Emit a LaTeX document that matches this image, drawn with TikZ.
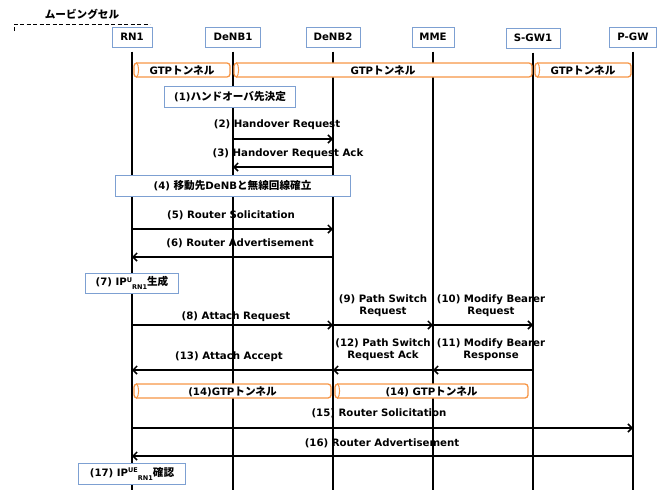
\documentclass[tikz,border=0pt]{standalone}
\usepackage{fontspec}
\setmainfont{DejaVu Sans}
\newfontfamily\jp{Noto Sans CJK JP}[Scale=1.04]
\usetikzlibrary{arrows.meta}
\definecolor{boxblue}{RGB}{125,160,210}
\definecolor{tunor}{RGB}{247,150,70}
\begin{document}
\begin{tikzpicture}[x=1pt,y=-1pt,
  every node/.style={font=\fontsize{10.2}{12}\selectfont\bfseries},
  hdr/.style={draw=boxblue,line width=1pt,fill=white,minimum height=20pt,inner sep=2pt},
  life/.style={line width=1.6pt},
  msg/.style={line width=1.5pt,-{Straight Barb[length=4pt,width=8pt]}},
  note/.style={draw=boxblue,line width=1pt,fill=white,minimum height=21pt,inner sep=1pt},
  tunnel/.style={draw=tunor,line width=1.3pt,rounded corners=3pt,fill=white,minimum height=14pt,inner sep=0pt},
  lbl/.style={inner sep=1pt},
  lbl2/.style={inner sep=1pt,align=center}]
\useasboundingbox (0,0) rectangle (662,490);
% moving cell
\node[lbl] (mc) at (82,14) {\jp ムービングセル};
\coordinate (mcl) at (14,24);
\coordinate (mcr) at (150,24);
\coordinate (mct) at (14,31);
\draw[dash pattern=on 4pt off 2.5pt,line width=0.8pt] (mct) -- (mcl) -- (mcr);
% headers
\node[hdr,minimum width=40pt] (rn1) at (132,37) {RN1};
\node[hdr,minimum width=55pt] (denb1) at (233,37) {DeNB1};
\node[hdr,minimum width=54pt] (denb2) at (333,37) {DeNB2};
\node[hdr,minimum width=42pt] (mme) at (433,37) {MME};
\node[hdr,minimum width=54pt] (sgw1) at (533,38) {S-GW1};
\node[hdr,minimum width=47pt] (pgw) at (633,37) {P-GW};
% lifelines
\foreach \n in {rn1,denb1,denb2,mme,sgw1,pgw}{
  \draw[life] ([yshift=-4pt]\n.south) -- (\n.south |- 0,490);
}
% top tunnels
\node[tunnel,minimum width=96pt] (t1) at (182,70) {GTP{\jp トンネル}};
\node[tunnel,minimum width=298pt] (t2) at (383,70) {GTP{\jp トンネル}};
\node[tunnel,minimum width=96pt] (t3) at (583,70) {GTP{\jp トンネル}};
\foreach \t in {t1,t2,t3}{
  \draw[draw=tunor,line width=1pt] ([xshift=3pt]\t.north west) .. controls ([xshift=6pt,yshift=-3pt]\t.north west) and ([xshift=6pt,yshift=3pt]\t.south west) .. ([xshift=3pt]\t.south west);
}
% (1)
\node[note,minimum width=131pt] (n1) at (230,97) {(1){\jp ハンドオーバ先決定}};
% (2),(3)
\node[lbl] (l2) at (277,125) {(2) Handover Request};
\draw[msg] (denb1 |- 0,139) -- (denb2 |- 0,139);
\node[lbl] (l3) at (288,154) {(3) Handover Request Ack};
\draw[msg] (denb2 |- 0,167) -- (denb1 |- 0,167);
% (4)
\node[note,minimum width=235pt] (n4) at (232.5,186) {(4) {\jp 移動先}DeNB{\jp と無線回線確立}};
% (5),(6)
\node[lbl] (l5) at (231,215) {(5) Router Solicitation};
\draw[msg] (rn1 |- 0,229) -- (denb2 |- 0,229);
\node[lbl] (l6) at (240,243) {(6) Router Advertisement};
\draw[msg] (denb2 |- 0,257) -- (rn1 |- 0,257);
% (7)
\node[note,minimum width=93pt,minimum height=20pt] (n7) at (132,283) {(7) IP\raisebox{0.7ex}{\fontsize{6.5}{6.5}\selectfont U}\raisebox{-0.6ex}{\fontsize{6.5}{6.5}\selectfont RN1}{\jp 生成}};
% (8),(9),(10)
\node[lbl] (l8) at (236,317) {(8) Attach Request};
\draw[msg] (rn1 |- 0,325) -- (denb2 |- 0,325);
\node[lbl2] (l9) at (383,306) {(9) Path Switch\\Request};
\draw[msg] (denb2 |- 0,325) -- (mme |- 0,325);
\node[lbl2] (l10) at (491,306) {(10) Modify Bearer\\Request};
\draw[msg] (mme |- 0,325) -- (sgw1 |- 0,325);
% (11),(12),(13)
\node[lbl2] (l11) at (491,350) {(11) Modify Bearer\\Response};
\draw[msg] (sgw1 |- 0,370) -- (mme |- 0,370);
\node[lbl2] (l12) at (383,350) {(12) Path Switch\\Request Ack};
\draw[msg] (mme |- 0,370) -- (denb2 |- 0,370);
\node[lbl] (l13) at (229,357) {(13) Attach Accept};
\draw[msg] (denb2 |- 0,370) -- (rn1 |- 0,370);
% (14)
\node[tunnel,minimum width=197pt,text depth=-1pt] (t4) at (232.5,391) {(14)GTP{\jp トンネル}};
\node[tunnel,minimum width=193pt,text depth=-1pt] (t5) at (431.5,391) {(14) GTP{\jp トンネル}};
\foreach \t in {t4,t5}{
  \draw[draw=tunor,line width=1pt] ([xshift=3pt]\t.north west) .. controls ([xshift=6pt,yshift=-3pt]\t.north west) and ([xshift=6pt,yshift=3pt]\t.south west) .. ([xshift=3pt]\t.south west);
}
% (15),(16)
\node[lbl] (l15) at (379,413) {(15) Router Solicitation};
\draw[msg] (rn1 |- 0,428) -- (pgw |- 0,428);
\node[lbl] (l16) at (382,443) {(16) Router Advertisement};
\draw[msg] (pgw |- 0,456) -- (rn1 |- 0,456);
% (17)
\node[note,minimum width=107pt] (n17) at (132,474) {(17) IP\raisebox{0.7ex}{\fontsize{6.5}{6.5}\selectfont UE}\raisebox{-0.6ex}{\fontsize{6.5}{6.5}\selectfont RN1}{\jp 確認}};
\end{tikzpicture}
\end{document}
